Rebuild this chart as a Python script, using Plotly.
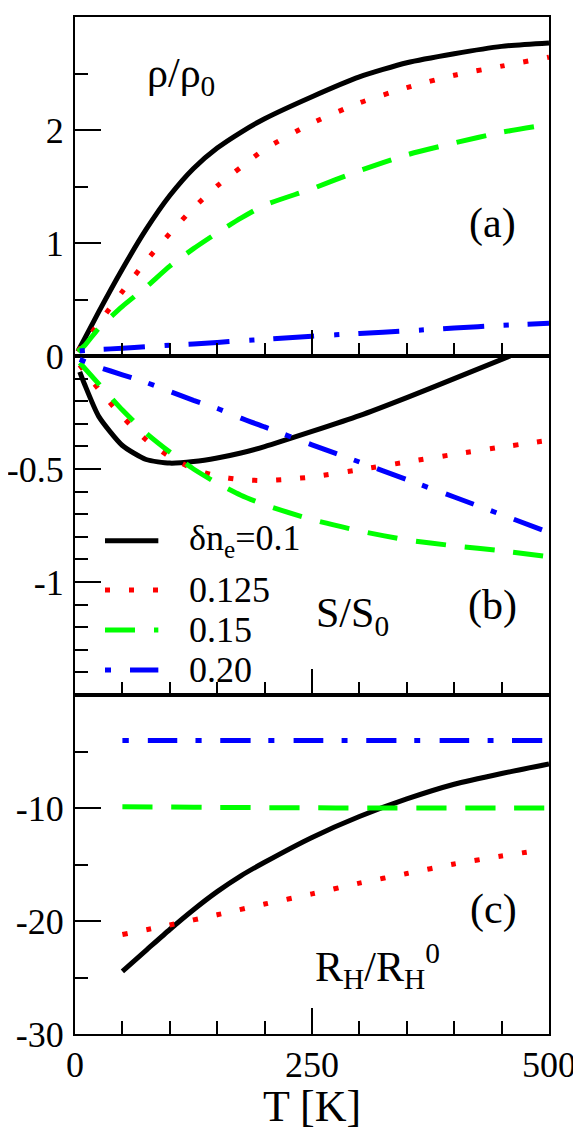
import plotly.graph_objects as go
from plotly.subplots import make_subplots

# ---- values ----------------------------------------------------------
series_names = ["δn<sub>e</sub>=0.1", "0.125", "0.15", "0.20"]
series_colors = ["#000000", "#ff0000", "#00ff00", "#0000ff"]

# (a) rho / rho_0
T_rho = [3, 10, 25, 50, 75, 100, 125, 150, 175, 200, 250, 300, 350, 400, 450, 500]
rho_010 = [0.04, 0.15, 0.39, 0.77, 1.12, 1.42, 1.66, 1.84, 1.98, 2.10, 2.295, 2.47, 2.595, 2.675, 2.74, 2.77]
rho_0125 = [0.04, 0.12, 0.29, 0.57, 0.84, 1.085, 1.31, 1.505, 1.67, 1.83, 2.06, 2.24, 2.375, 2.485, 2.565, 2.645]
rho_015 = [0.04, 0.09, 0.245, 0.44, 0.61, 0.795, 0.95, 1.09, 1.22, 1.335, 1.48, 1.64, 1.78, 1.885, 1.98, 2.05]
T_rho_020 = [5, 25, 50, 75, 100, 125, 150, 175, 200, 250, 300, 350, 400, 450, 500]
rho_020 = [0.045, 0.058, 0.068, 0.082, 0.095, 0.107, 0.12, 0.135, 0.147, 0.175, 0.2, 0.222, 0.248, 0.271, 0.289]

# (b) S / S_0
T_S_010 = [5, 10, 25, 50, 75, 100, 125, 150, 175, 200, 250, 300, 350, 400, 459]
S_010 = [-0.07, -0.124, -0.267, -0.396, -0.458, -0.474, -0.467, -0.451, -0.429, -0.401, -0.334, -0.264, -0.184, -0.1, 0.0]
T_S_0125 = [5, 25, 50, 75, 100, 125, 150, 175, 200, 225, 250, 300, 350, 400, 450, 500]
S_0125 = [-0.04, -0.147, -0.269, -0.371, -0.446, -0.5, -0.532, -0.547, -0.551, -0.545, -0.535, -0.503, -0.469, -0.435, -0.403, -0.373]
T_S = [5, 25, 50, 75, 100, 125, 150, 175, 200, 250, 300, 350, 400, 450, 495]
S_015 = [-0.03, -0.123, -0.239, -0.341, -0.425, -0.5, -0.563, -0.616, -0.658, -0.724, -0.774, -0.814, -0.84, -0.862, -0.886]
S_020 = [-0.015, -0.049, -0.083, -0.117, -0.157, -0.196, -0.232, -0.275, -0.314, -0.393, -0.469, -0.547, -0.624, -0.702, -0.773]

# (c) R_H / R_H^0
T_R = [50, 75, 100, 125, 150, 175, 200, 250, 300, 350, 400, 450, 500]
R_010 = [-24.45, -22.6, -20.75, -19.0, -17.4, -16.0, -14.8, -12.6, -10.75, -9.2, -7.9, -6.95, -6.1]
T_R_0125 = [50, 100, 150, 200, 250, 300, 350, 400, 450, 485]
R_0125 = [-21.2, -20.35, -19.45, -18.5, -17.6, -16.65, -15.8, -14.95, -14.25, -13.8]
T_R_flat = [50, 100, 150, 200, 250, 300, 350, 400, 450, 495]
R_015 = [-9.88, -9.92, -9.95, -9.97, -9.98, -10.0, -10.0, -10.0, -10.0, -10.0]
R_020 = [-4.03, -4.03, -4.03, -4.03, -4.03, -4.03, -4.03, -4.03, -4.03, -4.03]

# axis ticks: (range, major tick values, major labels, minor step)
x_ticks = ([0, 500], [0, 250, 500], ["0", "250", "500"], 50)
y_ticks = [
    ([0, 3], [0, 1, 2, 3], ["0", "1", "2", "3"], 0.5),
    ([-1.5, 0], [-1.5, -1, -0.5, 0], ["", "-1", "-0.5", ""], 0.1),
    ([-30, 0], [-30, -20, -10, 0], ["-30", "-20", "-10", ""], 5),
]

FONT = "Liberation Serif"
LW = 5
# dash patterns (xmgrace-like): dotted, dashed, dot-dash
DASH = ["solid", "5px,19px", "30px,19px", "6px,19px,30px,18px"]
DASH_A_BLUE = "5px,19px,41px,20px"

# the page body has an 8px margin, so the figure is made 8px smaller
# on each side to land the frame where the reference has it
W, H = 573, 1123

panels = [
    (1, [(T_rho, rho_010), (T_rho, rho_0125), (T_rho, rho_015), (T_rho_020, rho_020)]),
    (2, [(T_S_010, S_010), (T_S_0125, S_0125), (T_S, S_015), (T_S, S_020)]),
    (3, [(T_R, R_010), (T_R_0125, R_0125), (T_R_flat, R_015), (T_R_flat, R_020)]),
]

fig = make_subplots(rows=3, cols=1, shared_xaxes=True, vertical_spacing=0)

for row, curves in panels:
    for i, (xs, ys) in enumerate(curves):
        dash = DASH[i]
        if row == 1 and i == 3:
            dash = DASH_A_BLUE
        fig.add_trace(go.Scatter(
            x=xs, y=ys, mode="lines",
            name=series_names[i],
            line=dict(color=series_colors[i], width=LW, dash=dash,
                      shape="spline", smoothing=0.6),
            showlegend=False,
            hoverinfo="skip",
        ), row=row, col=1)


def tick_axis(rng, vals, text, minor_step, **kw):
    """inside major + minor ticks, xmgrace look"""
    return dict(
        range=rng, tickvals=vals, ticktext=text,
        ticks="inside", ticklen=26, tickwidth=2, tickcolor="black",
        minor=dict(dtick=minor_step, tick0=0, ticks="inside", ticklen=13,
                   tickwidth=2, tickcolor="black", showgrid=False),
        showgrid=False, zeroline=False, automargin=False,
        tickfont=dict(family=FONT, size=36, color="black"),
        **kw,
    )


frame = dict(showline=True, linecolor="black", linewidth=2, mirror=True)

for row in (1, 2, 3):
    fig.update_xaxes(tick_axis(*x_ticks, ticklabelstandoff=-2, **frame), row=row, col=1)
    fig.update_yaxes(tick_axis(*y_ticks[row - 1], ticklabelstandoff=2, **frame), row=row, col=1)

fig.update_xaxes(
    title=dict(text="T [K]", font=dict(family=FONT, size=44, color="black"), standoff=6),
    row=3, col=1,
)

# ticks on the top and right edges of every panel
extra = {}
for k in range(3):
    xa, ya = ("x", "y") if k == 0 else (f"x{k + 1}", f"y{k + 1}")
    extra[f"xaxis{4 + k}"] = tick_axis(*x_ticks, overlaying=xa, anchor=ya, side="top",
                                      showticklabels=False, showline=False)
    extra[f"yaxis{4 + k}"] = tick_axis(*y_ticks[k], overlaying=ya, anchor=xa, side="right",
                                      showticklabels=False, showline=False)
fig.update_layout(**extra)

# panel labels
label_font = dict(family=FONT, size=42, color="black")
panel_texts = [
    ("ρ/ρ<sub>0</sub>", 0.148, 0.942, "left"),
    ("(a)", 0.880, 0.7965, "center"),
    ("S/S<sub>0</sub>", 0.504, 0.411, "left"),
    ("(b)", 0.880, 0.4215, "center"),
    ("R<sub>H</sub>/R<sub>H</sub><sup>0</sup>", 0.502, 0.067, "left"),
    ("(c)", 0.882, 0.122, "center"),
]
for txt, x, y, anchor in panel_texts:
    fig.add_annotation(text=txt, x=x, y=y, xref="paper", yref="paper",
                       xanchor=anchor, yanchor="middle", showarrow=False,
                       font=label_font)

# legend drawn inside panel (b), xmgrace style
legend_rows = [0.485, 0.4366, 0.3972, 0.3579]
for i, yrow in enumerate(legend_rows):
    fig.add_shape(type="line", xref="paper", yref="paper",
                  x0=0.0633, x1=0.1758, y0=yrow, y1=yrow,
                  line=dict(color=series_colors[i], width=LW, dash=DASH[i]))
    fig.add_annotation(text=series_names[i], x=0.236, y=yrow,
                       xref="paper", yref="paper", xanchor="left", yanchor="middle",
                       showarrow=False,
                       font=dict(family=FONT, size=36, color="black"))

fig.update_layout(
    width=W, height=H,
    margin=dict(l=67, r=32, t=9, b=97),
    plot_bgcolor="white", paper_bgcolor="white",
    showlegend=False,
)

fig.write_html("out.html")
